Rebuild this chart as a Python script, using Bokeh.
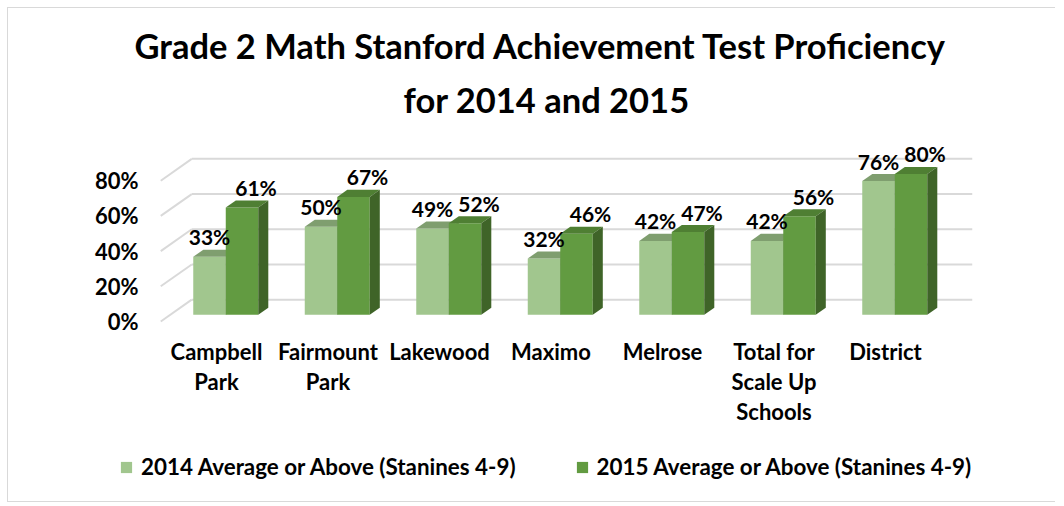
from bokeh.plotting import figure
from bokeh.models import Range1d, FixedTicker, ColumnDataSource, Legend, LegendItem, Title
from bokeh.core.properties import value
from bokeh.embed import file_html
from bokeh.resources import INLINE

# ---------------- data ----------------
title_lines = ["Grade 2 Math Stanford Achievement Test Proficiency", "for 2014 and 2015"]
categories = ["Campbell Park", "Fairmount Park", "Lakewood", "Maximo", "Melrose",
              "Total for Scale Up Schools", "District"]
category_labels = ["Campbell\nPark", "Fairmount\nPark", "Lakewood", "Maximo", "Melrose",
                   "Total for\nScale Up\nSchools", "District"]
series_names = ["2014 Average or Above (Stanines 4-9)", "2015 Average or Above (Stanines 4-9)"]
pct_2014 = [33, 50, 49, 32, 42, 42, 76]
pct_2015 = [61, 67, 52, 46, 47, 56, 80]
y_ticks = [0, 20, 40, 60, 80]
y_tick_labels = ["0%", "20%", "40%", "60%", "80%"]

# ---------------- style ----------------
FONT = "Lato"
GRID = "#d9d9d9"
FRONT = ["#a1c68e", "#629b41"]
TOP = ["#7f9e6f", "#4f7f33"]
SIDE = ["#6f8f60", "#3f6428"]

DEPTH_X, DEPTH_Y = 0.278, 12.4        # floor depth (category units, %)
SHIFT_X, SHIFT_Y = 0.083, 3.8         # bar front plane offset
BAR_DX, BAR_DY = 0.09, 4.0            # bar depth
BAR_W = 0.2915
LABEL_DX = [-5, 9]                    # px
YAXIS_AT = -0.592                     # x position of the value axis
XAXIS_AT = -5.11                      # y position of the category axis

n = len(categories)
idx = list(range(n))

p = figure(width=1048, height=495,
           x_range=Range1d(-1.3274, 6.9417), y_range=Range1d(-103.41, 108.52),
           output_backend="svg", toolbar_location=None,
           min_border_left=60, min_border_right=66,
           min_border_top=122, min_border_bottom=0,
           outline_line_color=None, background_fill_color="white",
           border_fill_color="white")
p.styles = {"margin-left": "7px", "margin-top": "7px",
            "border-left": "1px solid #d9d9d9", "border-top": "1px solid #d9d9d9",
            "border-bottom": "1px solid #d9d9d9"}

p.add_layout(Title(text=title_lines[1], align="left", offset=335, standoff=21,
                   text_font=FONT, text_font_style="bold", text_font_size="34.5px",
                   text_color="black"), "above")
p.add_layout(Title(text=title_lines[0], align="left", offset=66, standoff=1,
                   text_font=FONT, text_font_style="bold", text_font_size="34.5px",
                   text_color="black"), "above")

p.xgrid.visible = False
p.ygrid.visible = False

# ---------------- 3D gridlines ----------------
x_left, x_right = -0.5, n - 0.5
back_xs = [[x_left + DEPTH_X, x_right + DEPTH_X] for _ in y_ticks]
back_ys = [[v + DEPTH_Y, v + DEPTH_Y] for v in y_ticks]
side_xs = [[x_left, x_left + DEPTH_X] for _ in y_ticks]
side_ys = [[v, v + DEPTH_Y] for v in y_ticks]
p.multi_line(back_xs + side_xs, back_ys + side_ys, line_color=GRID, line_width=2)

# ---------------- bars ----------------
legend_items = []
for s, vals in enumerate([pct_2014, pct_2015]):
    x0 = [i + SHIFT_X + (s - 1) * BAR_W for i in idx]
    x1 = [a + BAR_W for a in x0]
    base = [SHIFT_Y] * n
    top = [SHIFT_Y + v for v in vals]
    src = ColumnDataSource(dict(left=x0, right=x1, bottom=base, top=top,
                                cat=categories, val=vals))
    front = p.quad(left="left", right="right", bottom="bottom", top="top", source=src,
                   fill_color=FRONT[s], line_color=None)
    tops_x = [[a, b, b + BAR_DX, a + BAR_DX] for a, b in zip(x0, x1)]
    tops_y = [[t, t, t + BAR_DY, t + BAR_DY] for t in top]
    p.patches(tops_x, tops_y, fill_color=TOP[s], line_color=None)
    side_x = [[b, b, b + BAR_DX, b + BAR_DX] for b in x1]
    side_y = [[SHIFT_Y, t, t + BAR_DY, SHIFT_Y + BAR_DY] for t in top]
    p.patches(side_x, side_y, fill_color=SIDE[s], line_color=None)
    legend_items.append(LegendItem(label=series_names[s], renderers=[front]))

for s, vals in enumerate([pct_2014, pct_2015]):
    lx = [i + SHIFT_X + (s - 0.5) * BAR_W + BAR_DX / 2 for i in idx]
    ly = [SHIFT_Y + v + BAR_DY for v in vals]
    p.text(lx, ly, text=[f"{v}%" for v in vals], x_offset=LABEL_DX[s], y_offset=-13,
           text_font=value(FONT), text_font_style="bold", text_font_size="21px",
           text_align="center", text_baseline="middle", text_color="black")

# ---------------- axes ----------------
p.yaxis.ticker = FixedTicker(ticks=y_ticks)
p.yaxis.major_label_overrides = dict(zip(y_ticks, y_tick_labels))
p.xaxis.ticker = FixedTicker(ticks=idx)
p.xaxis.major_label_overrides = dict(zip(idx, category_labels))
for ax in (p.xaxis, p.yaxis):
    ax.axis_line_color = None
    ax.major_tick_line_color = None
    ax.minor_tick_line_color = None
    ax.major_label_text_font = FONT
    ax.major_label_text_font_style = "bold"
    ax.major_label_text_font_size = "22px"
    ax.major_label_text_color = "black"
p.yaxis.fixed_location = YAXIS_AT
p.xaxis.fixed_location = XAXIS_AT
p.yaxis.major_label_standoff = 6
p.xaxis.major_label_standoff = 2
p.xaxis.major_label_text_line_height = 1.1

legend = Legend(items=legend_items, orientation="horizontal", location=(51, 23),
                glyph_width=14, glyph_height=14, label_standoff=8, spacing=59,
                label_text_font=FONT, label_text_font_style="bold",
                label_text_font_size="22.4px", label_text_color="black",
                border_line_color=None, background_fill_alpha=0, margin=0, padding=0)
p.add_layout(legend, "center")

open("out.html", "w").write(file_html(p, INLINE))
